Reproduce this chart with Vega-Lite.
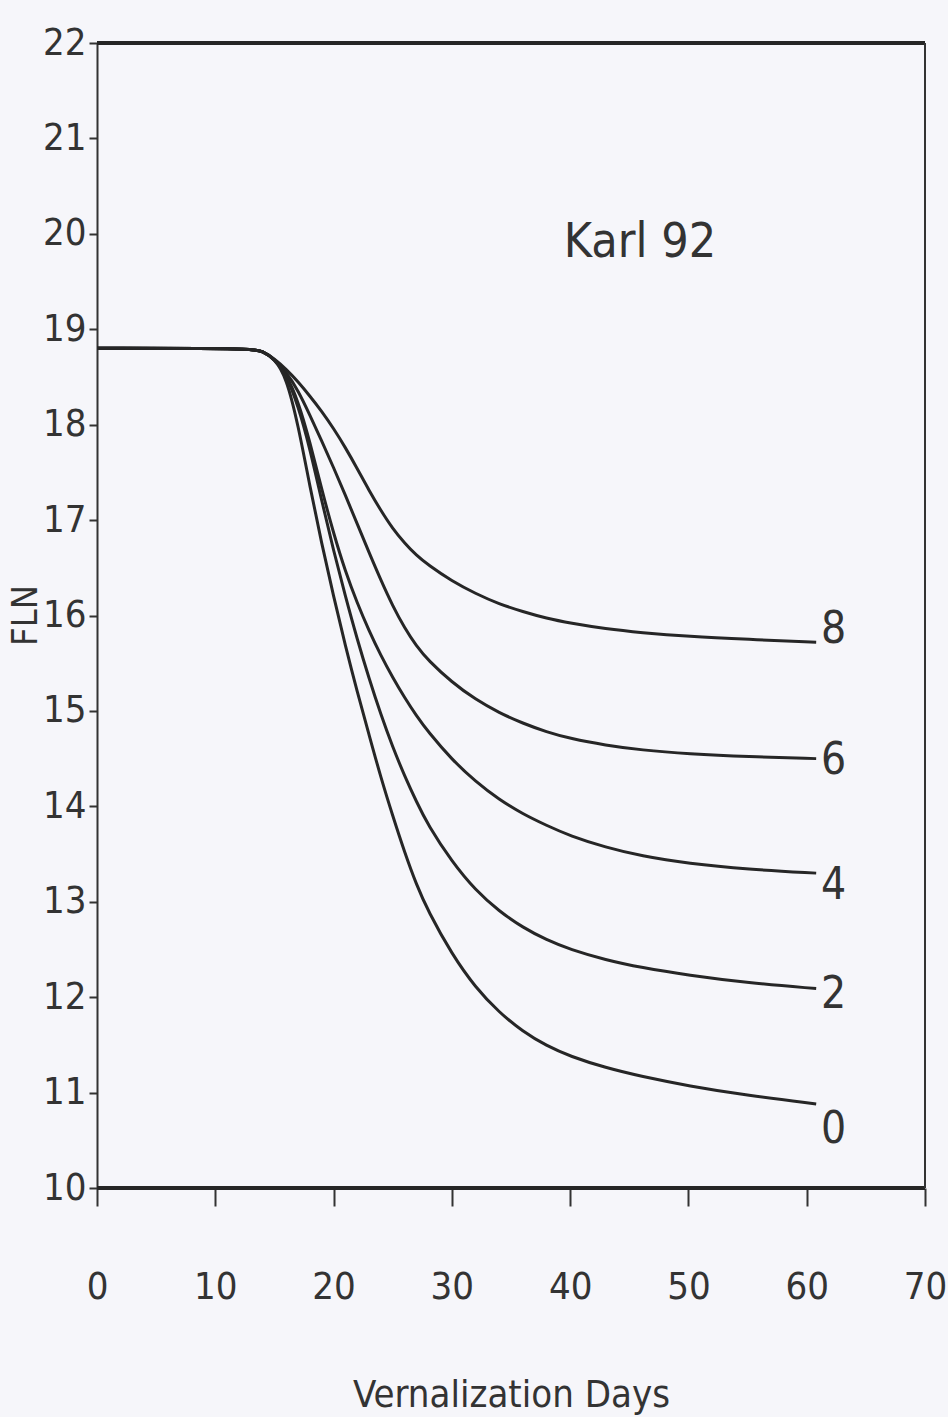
{
  "$schema": "https://vega.github.io/schema/vega-lite/v6.json",
  "width": 828,
  "height": 1145,
  "autosize": {"type": "none"},
  "padding": {"left": 97, "top": 43, "right": 23, "bottom": 229},
  "background": "#f6f6fa",
  "config": {
    "view": {"stroke": null},
    "font": "Liberation Sans Narrow, DejaVu Sans Condensed, sans-serif"
  },
  "datasets": {
    "curves": [
      {"vern": "8", "day": 0, "fln": 18.8}, {"vern": "8", "day": 13, "fln": 18.8}, {"vern": "8", "day": 14, "fln": 18.77}, {"vern": "8", "day": 15, "fln": 18.69}, {"vern": "8", "day": 16, "fln": 18.58}, {"vern": "8", "day": 17, "fln": 18.45}, {"vern": "8", "day": 18, "fln": 18.3}, {"vern": "8", "day": 19, "fln": 18.14}, {"vern": "8", "day": 20, "fln": 17.96}, {"vern": "8", "day": 21, "fln": 17.76}, {"vern": "8", "day": 22, "fln": 17.54}, {"vern": "8", "day": 23, "fln": 17.31}, {"vern": "8", "day": 24, "fln": 17.1}, {"vern": "8", "day": 25, "fln": 16.91}, {"vern": "8", "day": 26, "fln": 16.76}, {"vern": "8", "day": 27, "fln": 16.63}, {"vern": "8", "day": 28, "fln": 16.53}, {"vern": "8", "day": 30, "fln": 16.36}, {"vern": "8", "day": 32, "fln": 16.23}, {"vern": "8", "day": 34, "fln": 16.12}, {"vern": "8", "day": 36, "fln": 16.04}, {"vern": "8", "day": 38, "fln": 15.97}, {"vern": "8", "day": 40, "fln": 15.92}, {"vern": "8", "day": 43, "fln": 15.86}, {"vern": "8", "day": 46, "fln": 15.82}, {"vern": "8", "day": 50, "fln": 15.78}, {"vern": "8", "day": 55, "fln": 15.75}, {"vern": "8", "day": 60.8, "fln": 15.72},
      {"vern": "6", "day": 0, "fln": 18.8}, {"vern": "6", "day": 13, "fln": 18.8}, {"vern": "6", "day": 14, "fln": 18.77}, {"vern": "6", "day": 15, "fln": 18.69}, {"vern": "6", "day": 16, "fln": 18.55}, {"vern": "6", "day": 17, "fln": 18.36}, {"vern": "6", "day": 18, "fln": 18.1}, {"vern": "6", "day": 19, "fln": 17.83}, {"vern": "6", "day": 20, "fln": 17.55}, {"vern": "6", "day": 21, "fln": 17.26}, {"vern": "6", "day": 22, "fln": 16.96}, {"vern": "6", "day": 23, "fln": 16.66}, {"vern": "6", "day": 24, "fln": 16.37}, {"vern": "6", "day": 25, "fln": 16.1}, {"vern": "6", "day": 26, "fln": 15.87}, {"vern": "6", "day": 27, "fln": 15.68}, {"vern": "6", "day": 28, "fln": 15.53}, {"vern": "6", "day": 30, "fln": 15.3}, {"vern": "6", "day": 32, "fln": 15.12}, {"vern": "6", "day": 34, "fln": 14.98}, {"vern": "6", "day": 36, "fln": 14.87}, {"vern": "6", "day": 38, "fln": 14.78}, {"vern": "6", "day": 40, "fln": 14.71}, {"vern": "6", "day": 43, "fln": 14.64}, {"vern": "6", "day": 46, "fln": 14.59}, {"vern": "6", "day": 50, "fln": 14.55}, {"vern": "6", "day": 55, "fln": 14.52}, {"vern": "6", "day": 60.8, "fln": 14.5},
      {"vern": "4", "day": 0, "fln": 18.8}, {"vern": "4", "day": 13, "fln": 18.8}, {"vern": "4", "day": 14, "fln": 18.77}, {"vern": "4", "day": 15, "fln": 18.69}, {"vern": "4", "day": 16, "fln": 18.53}, {"vern": "4", "day": 17, "fln": 18.25}, {"vern": "4", "day": 18, "fln": 17.82}, {"vern": "4", "day": 19, "fln": 17.32}, {"vern": "4", "day": 20, "fln": 16.86}, {"vern": "4", "day": 21, "fln": 16.46}, {"vern": "4", "day": 22, "fln": 16.13}, {"vern": "4", "day": 23, "fln": 15.84}, {"vern": "4", "day": 24, "fln": 15.58}, {"vern": "4", "day": 25, "fln": 15.35}, {"vern": "4", "day": 26, "fln": 15.14}, {"vern": "4", "day": 27, "fln": 14.95}, {"vern": "4", "day": 28, "fln": 14.78}, {"vern": "4", "day": 30, "fln": 14.49}, {"vern": "4", "day": 32, "fln": 14.26}, {"vern": "4", "day": 34, "fln": 14.07}, {"vern": "4", "day": 36, "fln": 13.92}, {"vern": "4", "day": 38, "fln": 13.8}, {"vern": "4", "day": 40, "fln": 13.69}, {"vern": "4", "day": 43, "fln": 13.57}, {"vern": "4", "day": 46, "fln": 13.48}, {"vern": "4", "day": 50, "fln": 13.4}, {"vern": "4", "day": 55, "fln": 13.34}, {"vern": "4", "day": 60.8, "fln": 13.3},
      {"vern": "2", "day": 0, "fln": 18.8}, {"vern": "2", "day": 13, "fln": 18.8}, {"vern": "2", "day": 14, "fln": 18.77}, {"vern": "2", "day": 15, "fln": 18.69}, {"vern": "2", "day": 16, "fln": 18.52}, {"vern": "2", "day": 17, "fln": 18.2}, {"vern": "2", "day": 18, "fln": 17.75}, {"vern": "2", "day": 19, "fln": 17.2}, {"vern": "2", "day": 20, "fln": 16.68}, {"vern": "2", "day": 21, "fln": 16.2}, {"vern": "2", "day": 22, "fln": 15.75}, {"vern": "2", "day": 23, "fln": 15.34}, {"vern": "2", "day": 24, "fln": 14.96}, {"vern": "2", "day": 25, "fln": 14.62}, {"vern": "2", "day": 26, "fln": 14.32}, {"vern": "2", "day": 27, "fln": 14.05}, {"vern": "2", "day": 28, "fln": 13.8}, {"vern": "2", "day": 30, "fln": 13.42}, {"vern": "2", "day": 32, "fln": 13.12}, {"vern": "2", "day": 34, "fln": 12.9}, {"vern": "2", "day": 36, "fln": 12.73}, {"vern": "2", "day": 38, "fln": 12.6}, {"vern": "2", "day": 40, "fln": 12.5}, {"vern": "2", "day": 43, "fln": 12.39}, {"vern": "2", "day": 46, "fln": 12.31}, {"vern": "2", "day": 50, "fln": 12.23}, {"vern": "2", "day": 55, "fln": 12.15}, {"vern": "2", "day": 60.8, "fln": 12.09},
      {"vern": "0", "day": 0, "fln": 18.8}, {"vern": "0", "day": 13, "fln": 18.8}, {"vern": "0", "day": 14, "fln": 18.77}, {"vern": "0", "day": 15, "fln": 18.69}, {"vern": "0", "day": 16, "fln": 18.5}, {"vern": "0", "day": 17, "fln": 18.0}, {"vern": "0", "day": 18, "fln": 17.35}, {"vern": "0", "day": 19, "fln": 16.75}, {"vern": "0", "day": 20, "fln": 16.2}, {"vern": "0", "day": 21, "fln": 15.68}, {"vern": "0", "day": 22, "fln": 15.2}, {"vern": "0", "day": 23, "fln": 14.75}, {"vern": "0", "day": 24, "fln": 14.3}, {"vern": "0", "day": 25, "fln": 13.9}, {"vern": "0", "day": 26, "fln": 13.52}, {"vern": "0", "day": 27, "fln": 13.18}, {"vern": "0", "day": 28, "fln": 12.9}, {"vern": "0", "day": 30, "fln": 12.45}, {"vern": "0", "day": 32, "fln": 12.1}, {"vern": "0", "day": 34, "fln": 11.84}, {"vern": "0", "day": 36, "fln": 11.64}, {"vern": "0", "day": 38, "fln": 11.49}, {"vern": "0", "day": 40, "fln": 11.38}, {"vern": "0", "day": 43, "fln": 11.26}, {"vern": "0", "day": 46, "fln": 11.17}, {"vern": "0", "day": 50, "fln": 11.07}, {"vern": "0", "day": 55, "fln": 10.97}, {"vern": "0", "day": 60.8, "fln": 10.88}
    ],
    "labels": [
      {"label": "8", "day": 61.2, "fln": 15.85},
      {"label": "6", "day": 61.2, "fln": 14.48},
      {"label": "4", "day": 61.2, "fln": 13.17},
      {"label": "2", "day": 61.2, "fln": 12.02},
      {"label": "0", "day": 61.2, "fln": 10.61}
    ],
    "title": [{"label": "Karl 92", "day": 45.9, "fln": 19.9}]
  },
  "layer": [
    {
      "data": {"name": "curves"},
      "mark": {"type": "line", "interpolate": "basis", "color": "#262626", "strokeWidth": 3},
      "encoding": {
        "x": {
          "field": "day", "type": "quantitative",
          "scale": {"domain": [0, 70], "nice": false, "zero": false},
          "axis": {
            "values": [0, 10, 20, 30, 40, 50, 60, 70], "format": "d",
            "domain": false, "grid": false,
            "tickSize": 18, "tickWidth": 2, "tickColor": "#333",
            "labelFontSize": 38, "labelColor": "#333", "labelPadding": 62, "labelFlush": false,
            "title": "Vernalization Days", "titleFontSize": 38, "titleFontWeight": "normal", "titleColor": "#333", "titlePadding": 70
          }
        },
        "y": {
          "field": "fln", "type": "quantitative",
          "scale": {"domain": [10, 22], "nice": false, "zero": false},
          "axis": {
            "values": [10, 11, 12, 13, 14, 15, 16, 17, 18, 19, 20, 21, 22], "format": "d",
            "domain": true, "domainWidth": 2, "domainColor": "#333", "grid": false,
            "tickSize": 8, "tickWidth": 2, "tickColor": "#333",
            "labelFontSize": 38, "labelColor": "#333", "labelPadding": 3, "labelFlush": false,
            "title": "FLN", "titleFontSize": 36, "titleFontWeight": "normal", "titleColor": "#333",
            "titleX": -72, "titleY": 572, "titleAngle": -90, "titleAlign": "center", "titleBaseline": "middle"
          }
        },
        "detail": {"field": "vern", "type": "nominal"}
      }
    },
    {
      "data": {"values": [{}]},
      "mark": {"type": "rule", "strokeWidth": 4, "color": "#262626"},
      "encoding": {"y": {"datum": 22}}
    },
    {
      "data": {"values": [{}]},
      "mark": {"type": "rule", "strokeWidth": 4, "color": "#262626"},
      "encoding": {"y": {"datum": 10}}
    },
    {
      "data": {"values": [{}]},
      "mark": {"type": "rule", "strokeWidth": 2, "color": "#333"},
      "encoding": {"x": {"datum": 70}}
    },
    {
      "data": {"name": "labels"},
      "mark": {"type": "text", "align": "left", "baseline": "middle", "fontSize": 44, "color": "#333"},
      "encoding": {
        "x": {"field": "day", "type": "quantitative"},
        "y": {"field": "fln", "type": "quantitative"},
        "text": {"field": "label"}
      }
    },
    {
      "data": {"name": "title"},
      "mark": {"type": "text", "align": "center", "baseline": "middle", "fontSize": 48, "color": "#333"},
      "encoding": {
        "x": {"field": "day", "type": "quantitative"},
        "y": {"field": "fln", "type": "quantitative"},
        "text": {"field": "label"}
      }
    }
  ]
}
